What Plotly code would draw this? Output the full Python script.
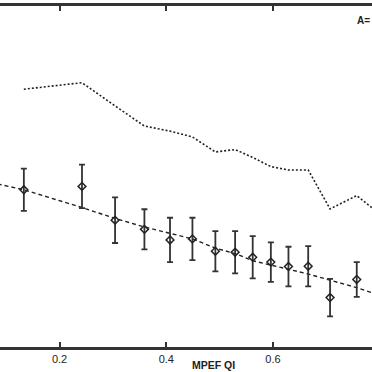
import plotly.graph_objects as go

# Data
qi = [0.133, 0.242, 0.304, 0.359, 0.407, 0.449, 0.492, 0.529, 0.562, 0.596, 0.629, 0.666, 0.707, 0.757]
observed = [0.461, 0.471, 0.372, 0.345, 0.314, 0.317, 0.281, 0.278, 0.263, 0.249, 0.236, 0.237, 0.145, 0.198]
observed_err = [0.062, 0.064, 0.067, 0.059, 0.065, 0.062, 0.059, 0.062, 0.062, 0.058, 0.058, 0.059, 0.055, 0.051]

upper_x = [0.133, 0.242, 0.304, 0.359, 0.407, 0.449, 0.492, 0.529, 0.562, 0.596, 0.629, 0.666, 0.707, 0.757, 0.800]
upper_y = [0.756, 0.775, 0.707, 0.648, 0.633, 0.616, 0.572, 0.579, 0.556, 0.529, 0.519, 0.519, 0.405, 0.444, 0.390]

fit_x = [0.084, 0.133, 0.242, 0.304, 0.359, 0.407, 0.449, 0.492, 0.529, 0.562, 0.596, 0.629, 0.666, 0.707, 0.757, 0.800]
fit_y = [0.478, 0.461, 0.409, 0.377, 0.352, 0.334, 0.317, 0.290, 0.274, 0.253, 0.240, 0.227, 0.214, 0.196, 0.174, 0.152]

x_tick_vals = [0.2, 0.4, 0.6, 0.8]
x_tick_text = ["0.2", "0.4", "0.6", "0.8"]

FONT = "Liberation Sans, Arial, Helvetica, sans-serif"

fig = go.Figure()

fig.add_trace(go.Scatter(
    x=upper_x, y=upper_y, mode="lines",
    line=dict(color="#222222", width=1.6, dash="2px,2px"),
    showlegend=False, hoverinfo="skip"))

fig.add_trace(go.Scatter(
    x=fit_x, y=fit_y, mode="lines",
    line=dict(color="#222222", width=1.4, dash="4px,3px"),
    showlegend=False, hoverinfo="skip"))

fig.add_trace(go.Scatter(
    x=qi, y=observed, mode="markers",
    marker=dict(symbol="diamond-open", size=6, color="#222222", line=dict(width=1.5, color="#222222")),
    error_y=dict(type="data", array=observed_err, visible=True, color="#333333", thickness=1.8, width=3),
    showlegend=False))

fig.add_annotation(
    x=213 / 372, y=(347 - 365) / 341, xref="paper", yref="paper",
    text="<b>MPEF QI</b>", showarrow=False, xanchor="center", yanchor="middle",
    font=dict(family=FONT, size=10.5, color="#222222"))

fig.add_annotation(
    x=1.0, y=(347 - 21) / 341, xref="paper", yref="paper",
    text="<b>A=</b>", showarrow=False, xanchor="right", yanchor="middle",
    font=dict(family=FONT, size=10, color="#222222"))

fig.update_layout(
    width=372, height=372,
    margin=dict(l=0, r=0, t=6, b=25, pad=0),
    paper_bgcolor="white", plot_bgcolor="white",
    xaxis=dict(
        range=[0.0883, 0.7856],
        tickvals=x_tick_vals, ticktext=x_tick_text,
        showgrid=False, zeroline=False,
        showline=True, linecolor="#333333", linewidth=2.5, mirror="ticks",
        ticks="inside", ticklen=5, tickwidth=1.5, tickcolor="#333333",
        tickfont=dict(family=FONT, size=11, color="#222222"),
    ),
    yaxis=dict(range=[0, 1], visible=False, showgrid=False, zeroline=False),
)

fig.write_html("out.html", config={"displayModeBar": False},
               post_script="document.body.style.margin='0';document.body.style.overflow='hidden';")
